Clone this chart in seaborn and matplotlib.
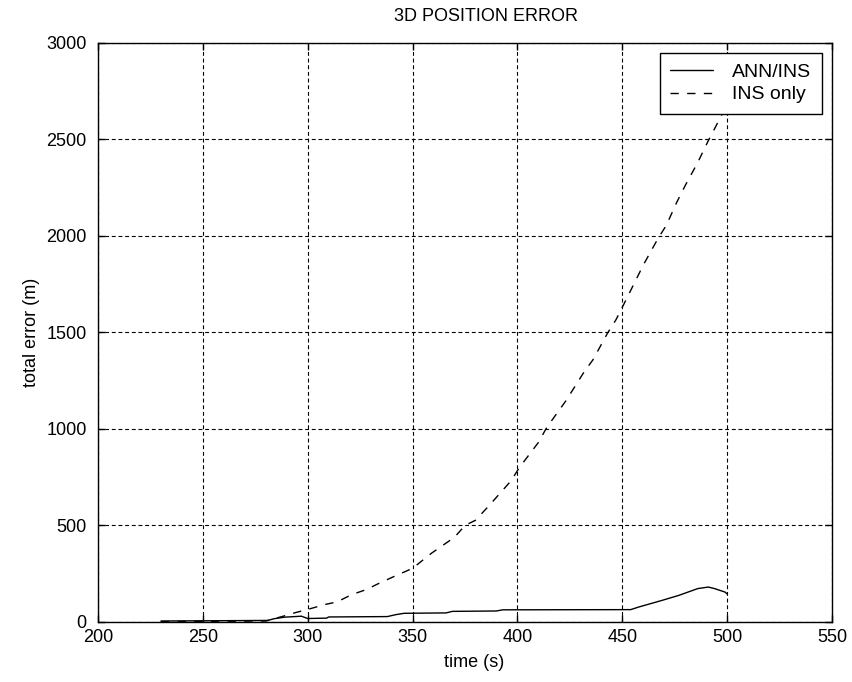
import matplotlib
matplotlib.use("Agg")
import matplotlib.pyplot as plt
import seaborn as sns
import pandas as pd

# ANN/INS (solid)
ann_time = [230, 281, 284, 289, 297, 300, 309, 310, 338, 342, 346, 366, 369, 390, 393,
            454, 458, 469, 477, 486, 491, 494, 499, 500]
ann_err = [5, 8, 17, 25, 30, 18, 20, 26, 28, 38, 45, 47, 55, 57, 63,
           64, 78, 112, 138, 173, 181, 173, 155, 145]

# INS only (dashed)
ins_time = [230, 280, 285, 290, 294, 300, 308, 314, 321, 328, 333, 340, 350, 359, 370,
            375, 380, 386.5, 397, 401, 410, 414, 423, 427, 432, 436, 443, 447, 451,
            456.5, 460, 467, 471, 476, 480, 486, 491, 496, 500]
ins_err = [2, 5, 20, 35, 48, 65, 90, 104, 142, 168, 195, 230, 278, 356, 439,
           500, 527, 603, 732, 801, 930, 1008, 1144, 1213, 1299, 1358, 1497, 1566, 1652,
           1772, 1849, 1986, 2055, 2175, 2261, 2381, 2493, 2597, 2680]

x_ticks = [200, 250, 300, 350, 400, 450, 500, 550]
y_ticks = [0, 500, 1000, 1500, 2000, 2500, 3000]

sns.set_theme(style="white")
plt.rcParams['font.family'] = ['Liberation Sans', 'DejaVu Sans']
plt.rcParams['font.size'] = 13
plt.rcParams['text.color'] = 'black'
plt.rcParams['axes.labelcolor'] = 'black'
plt.rcParams['xtick.color'] = 'black'
plt.rcParams['ytick.color'] = 'black'

fig = plt.figure(figsize=(8.52, 6.82), dpi=100)
ax = fig.add_axes([0.115, 0.088, 0.8615, 0.849])

df_ann = pd.DataFrame({"time": ann_time, "err": ann_err})
df_ins = pd.DataFrame({"time": ins_time, "err": ins_err})

sns.lineplot(data=df_ann, x="time", y="err", ax=ax, color="black", linewidth=1.0,
             label="ANN/INS", sort=False, estimator=None)
sns.lineplot(data=df_ins, x="time", y="err", ax=ax, color="black", linewidth=1.0,
             label="INS only", sort=False, estimator=None, linestyle=(0, (6, 6)))

ax.set_xlim(200, 550)
ax.set_ylim(0, 3000)
ax.set_xticks(x_ticks)
ax.set_yticks(y_ticks)
ax.set_xticklabels([str(v) for v in x_ticks], fontsize=13)
ax.set_yticklabels([str(v) for v in y_ticks], fontsize=13)

ax.grid(True, color="black", linestyle=(0, (3.5, 2.5)), linewidth=0.8)
ax.tick_params(direction="in", length=5, width=1, top=True, right=True,
               bottom=True, left=True, colors="black")
ax.tick_params(axis="x", pad=5)
ax.tick_params(axis="y", pad=8)
for s in ax.spines.values():
    s.set_color("black")
    s.set_linewidth(1.0)
    s.set_visible(True)

ax.set_xlabel("time (s)", fontsize=13, labelpad=6, x=0.512)
ax.set_ylabel("total error (m)", fontsize=13, labelpad=5)
ax.set_title("3D POSITION ERROR", fontsize=13, pad=16, x=0.529, color="black")

leg = ax.legend(loc="upper right", frameon=True, fancybox=False, fontsize=14,
                borderaxespad=0.5, handlelength=2.2, handletextpad=1.0,
                edgecolor="black", framealpha=1.0, borderpad=0.55, labelspacing=0.25)
leg.get_frame().set_linewidth(1.0)
for t in leg.get_texts():
    t.set_color("black")

fig.savefig("out.png", dpi=100)
